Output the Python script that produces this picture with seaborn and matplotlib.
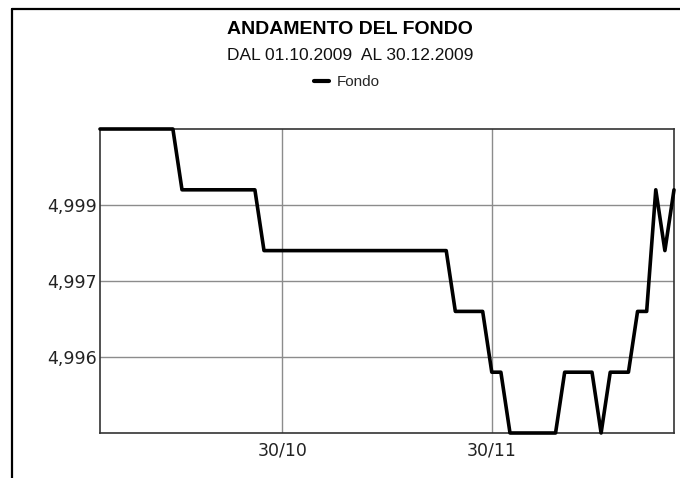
import numpy as np
import pandas as pd
import seaborn as sns
import matplotlib.pyplot as plt
from matplotlib.lines import Line2D

# NAV of the fund, one value per trading day (01.10.2009 - 30.12.2009)
fondo = [5.000] * 9 + [4.999] * 9 + [4.998] * 21 + [4.997] * 4 + [4.996] * 2 \
    + [4.995] * 6 + [4.996] * 4 + [4.995] + [4.996] * 3 + [4.997] * 2 \
    + [4.999, 4.998, 4.999]

xtick_pos = [20, 43]
xtick_labels = ['30/10', '30/11']
ytick_pos = [4.99875, 4.9975, 4.99625]
ytick_labels = ['4,999', '4,997', '4,996']

df = pd.DataFrame({'giorno': np.arange(len(fondo)), 'Fondo': fondo})

sns.set_style('white')
plt.rcParams['font.family'] = ['DejaVu Sans']

fig = plt.figure(figsize=(6.8, 4.78), dpi=100)
ax = fig.add_axes([100 / 680, 1 - 433 / 478, 574 / 680, 304 / 478])

sns.lineplot(data=df, x='giorno', y='Fondo', color='black', linewidth=2.6,
             ax=ax, legend=False, clip_on=False, zorder=5)

ax.set_xlim(0, len(fondo) - 1)
ax.set_ylim(4.995, 5.000)
ax.set_xticks(xtick_pos)
ax.set_xticklabels(xtick_labels, fontsize=12.5, color='#222222')
ax.set_yticks(ytick_pos)
ax.set_yticklabels(ytick_labels, fontsize=12.5, color='#222222')
ax.tick_params(axis='y', length=0, pad=2)
ax.tick_params(axis='x', length=0, pad=6)
ax.set_xlabel('')
ax.set_ylabel('')
ax.grid(True, color='#8c8c8c', linewidth=1)
for s in ax.spines.values():
    s.set_color('#333333')
    s.set_linewidth(1.2)

# titles and legend
cx = 350 / 680
fig.text(cx, 1 - 29.5 / 478, 'ANDAMENTO DEL FONDO', ha='center', va='center',
         fontsize=14, fontweight='bold', family='Liberation Sans', color='black')
fig.text(cx, 1 - 56 / 478, 'DAL 01.10.2009  AL 30.12.2009', ha='center',
         va='center', fontsize=12.5, family='Liberation Sans', color='#111111')
handle = Line2D([], [], color='black', linewidth=3)
fig.legend([handle], ['Fondo'], loc='center', bbox_to_anchor=(cx - 0.005, 1 - 82 / 478),
           frameon=False, handlelength=1.0, handletextpad=0.5,
           prop={'family': 'Liberation Sans', 'size': 11})

# outer frame (top and left edges)
fig.add_artist(Line2D([11.5 / 680, 11.5 / 680], [0, 1 - 8.5 / 478], color='black',
                      linewidth=1.6, transform=fig.transFigure))
fig.add_artist(Line2D([11.5 / 680, 1], [1 - 8.5 / 478, 1 - 8.5 / 478], color='black',
                      linewidth=1.6, transform=fig.transFigure))

fig.savefig('out.png', dpi=100)
